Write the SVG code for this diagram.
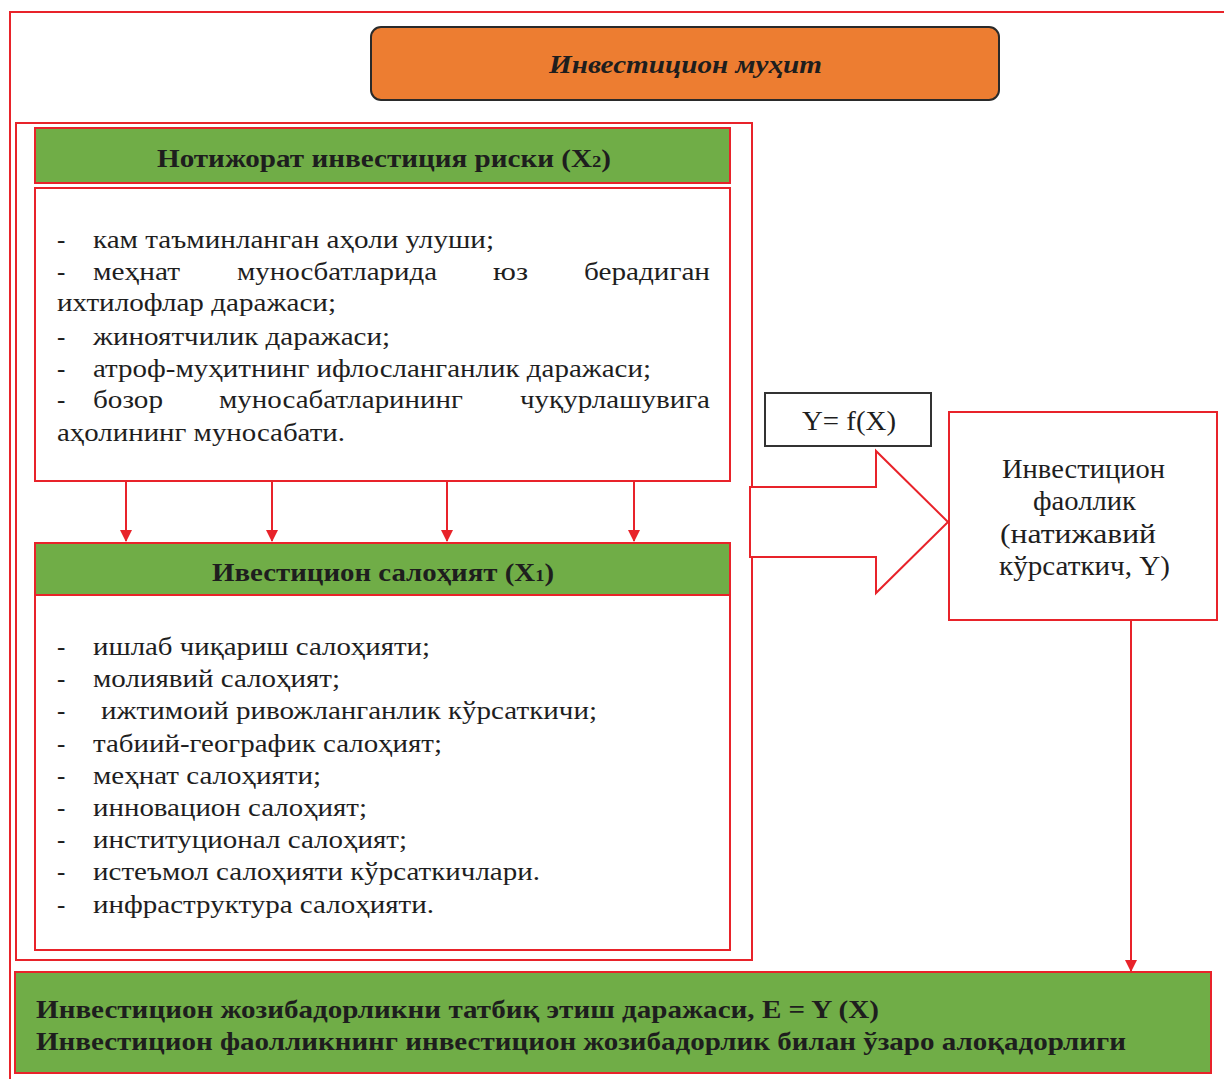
<svg xmlns="http://www.w3.org/2000/svg" width="1224" height="1079" viewBox="0 0 1224 1079">
<defs>
<marker id="ah" markerWidth="12" markerHeight="15" refX="11" refY="6" orient="auto" markerUnits="userSpaceOnUse" viewBox="0 0 12 12">
<path d="M0,0 L12,6 L0,12 z" fill="#E8232A"/>
</marker>
</defs>
<style>
.red{fill:none;stroke:#E8232A;stroke-width:2}
.wbox{fill:#ffffff;stroke:#E8232A;stroke-width:2}
.gbox{fill:#70AD47;stroke:#E8232A;stroke-width:2}
.t{font-family:"Liberation Serif","Times New Roman",serif;font-size:25px;fill:#1e1e1e}
.big{font-size:28px}
.b{font-weight:bold}
.c{text-anchor:middle}
.line{stroke:#E8232A;stroke-width:2;fill:none}
</style>
<rect x="0" y="0" width="1224" height="1079" fill="#ffffff"/>
<g id="frame">
<path class="red" d="M10,1079 L10,12 L1224,12"/>
<rect class="red" x="16" y="123" width="736" height="837"/>
</g>
<g id="env">
<rect x="371" y="27" width="628" height="73" rx="10" fill="#ED7D31" stroke="#2a2a2a" stroke-width="2"/>
<text class="t b" x="549" y="73" font-style="italic" textLength="273" lengthAdjust="spacingAndGlyphs">Инвестицион муҳит</text>
</g>
<g id="risk">
<rect class="gbox" x="35" y="128" width="695" height="55"/>
<text class="t b" x="157" y="167" textLength="454" lengthAdjust="spacingAndGlyphs">Нотижорат инвестиция риски (X<tspan font-size="16">2</tspan>)</text>
<rect class="wbox" x="35" y="188" width="695" height="293"/>
<text class="t" x="57" y="248">-</text>
<text class="t" x="93" y="248" textLength="401" lengthAdjust="spacingAndGlyphs">кам таъминланган аҳоли улуши;</text>
<text class="t" x="57" y="280">-</text>
<text class="t" x="93" y="280" textLength="87" lengthAdjust="spacingAndGlyphs">меҳнат</text>
<text class="t" x="237" y="280" textLength="200" lengthAdjust="spacingAndGlyphs">муносбатларида</text>
<text class="t" x="493" y="280" textLength="35" lengthAdjust="spacingAndGlyphs">юз</text>
<text class="t" x="584" y="280" textLength="126" lengthAdjust="spacingAndGlyphs">берадиган</text>
<text class="t" x="57" y="311" textLength="279" lengthAdjust="spacingAndGlyphs">ихтилофлар даражаси;</text>
<text class="t" x="57" y="345">-</text>
<text class="t" x="93" y="345" textLength="297" lengthAdjust="spacingAndGlyphs">жиноятчилик даражаси;</text>
<text class="t" x="57" y="377">-</text>
<text class="t" x="93" y="377" textLength="558" lengthAdjust="spacingAndGlyphs">атроф-муҳитнинг ифлосланганлик даражаси;</text>
<text class="t" x="57" y="408">-</text>
<text class="t" x="93" y="408" textLength="70" lengthAdjust="spacingAndGlyphs">бозор</text>
<text class="t" x="219" y="408" textLength="244" lengthAdjust="spacingAndGlyphs">муносабатларининг</text>
<text class="t" x="520" y="408" textLength="190" lengthAdjust="spacingAndGlyphs">чуқурлашувига</text>
<text class="t" x="57" y="441" textLength="288" lengthAdjust="spacingAndGlyphs">аҳолининг муносабати.</text>
</g>
<g id="potential">
<rect class="gbox" x="35" y="543" width="695" height="52"/>
<text class="t b" x="212" y="581" textLength="342" lengthAdjust="spacingAndGlyphs">Ивестицион салоҳият (X<tspan font-size="16">1</tspan>)</text>
<rect class="wbox" x="35" y="595" width="695" height="355"/>
<text class="t" x="57" y="655">-</text>
<text class="t" x="93" y="655" textLength="337" lengthAdjust="spacingAndGlyphs">ишлаб чиқариш салоҳияти;</text>
<text class="t" x="57" y="687">-</text>
<text class="t" x="93" y="687" textLength="247" lengthAdjust="spacingAndGlyphs">молиявий салоҳият;</text>
<text class="t" x="57" y="719">-</text>
<text class="t" x="101" y="719" textLength="496" lengthAdjust="spacingAndGlyphs">ижтимоий ривожланганлик кўрсаткичи;</text>
<text class="t" x="57" y="752">-</text>
<text class="t" x="93" y="752" textLength="349" lengthAdjust="spacingAndGlyphs">табиий-географик салоҳият;</text>
<text class="t" x="57" y="784">-</text>
<text class="t" x="93" y="784" textLength="228" lengthAdjust="spacingAndGlyphs">меҳнат салоҳияти;</text>
<text class="t" x="57" y="816">-</text>
<text class="t" x="93" y="816" textLength="274" lengthAdjust="spacingAndGlyphs">инновацион салоҳият;</text>
<text class="t" x="57" y="848">-</text>
<text class="t" x="93" y="848" textLength="314" lengthAdjust="spacingAndGlyphs">институционал салоҳият;</text>
<text class="t" x="57" y="880">-</text>
<text class="t" x="93" y="880" textLength="447" lengthAdjust="spacingAndGlyphs">истеъмол салоҳияти кўрсаткичлари.</text>
<text class="t" x="57" y="913">-</text>
<text class="t" x="93" y="913" textLength="341" lengthAdjust="spacingAndGlyphs">инфраструктура салоҳияти.</text>
</g>
<g id="formula">
<rect x="765" y="393" width="166" height="53" fill="#ffffff" stroke="#333333" stroke-width="2"/>
<text class="t big" x="802" y="430" textLength="94" lengthAdjust="spacingAndGlyphs">Y= f(X)</text>
</g>
<g id="activity">
<rect class="wbox" x="949" y="412" width="268" height="208"/>
<text class="t big" x="1002" y="478" textLength="163" lengthAdjust="spacingAndGlyphs">Инвестицион</text>
<text class="t big" x="1033" y="510" textLength="103" lengthAdjust="spacingAndGlyphs">фаоллик</text>
<text class="t big" x="1000" y="543" textLength="156" lengthAdjust="spacingAndGlyphs">(натижавий</text>
<text class="t big" x="999" y="575" textLength="171" lengthAdjust="spacingAndGlyphs">кўрсаткич, Y)</text>
</g>
<g id="result">
<rect class="gbox" x="15" y="972" width="1196" height="101"/>
<text class="t b" x="36" y="1018" textLength="843" lengthAdjust="spacingAndGlyphs">Инвестицион жозибадорликни татбиқ этиш даражаси, E = Y (X)</text>
<text class="t b" x="36" y="1050" textLength="1090" lengthAdjust="spacingAndGlyphs">Инвестицион фаолликнинг инвестицион жозибадорлик билан ўзаро алоқадорлиги</text>
</g>
<g id="connectors">
<line class="line" x1="126" y1="481" x2="126" y2="541" marker-end="url(#ah)"/>
<line class="line" x1="272" y1="481" x2="272" y2="541" marker-end="url(#ah)"/>
<line class="line" x1="447" y1="481" x2="447" y2="541" marker-end="url(#ah)"/>
<line class="line" x1="634" y1="481" x2="634" y2="541" marker-end="url(#ah)"/>
<line class="line" x1="1131" y1="620" x2="1131" y2="971" marker-end="url(#ah)"/>
<path d="M750,487 L876,487 L876,451 L948,522 L876,593 L876,557 L750,557 Z" fill="#ffffff" stroke="#E8232A" stroke-width="2"/>
</g>
</svg>
